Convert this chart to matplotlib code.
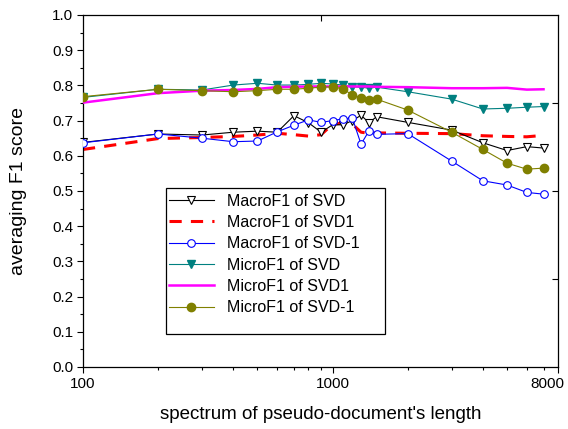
import matplotlib
matplotlib.use("Agg")
import matplotlib.pyplot as plt
import matplotlib.transforms as mtransforms
from matplotlib.ticker import FixedLocator, LogLocator, NullFormatter, MultipleLocator
from matplotlib.patches import Rectangle

plt.rcParams['font.family'] = ['Liberation Sans', 'DejaVu Sans']

# pseudo-document lengths
lengths = [100, 200, 300, 400, 500, 600, 700, 800, 900, 1000, 1100, 1200,
           1300, 1400, 1500, 2000, 3000, 4000, 5000, 6000, 7000]

macro_svd = [0.638, 0.662, 0.659, 0.667, 0.670, 0.667, 0.714, 0.694, 0.667,
             0.688, 0.688, 0.700, 0.715, 0.694, 0.711, 0.695, 0.673, 0.637,
             0.615, 0.626, 0.622]
macro_svd1 = [0.618, 0.649, 0.652, 0.655, 0.659, 0.664, 0.660, 0.656, 0.660,
              0.690, 0.693, 0.690, 0.667, 0.664, 0.665, 0.664, 0.663, 0.657,
              0.655, 0.654, 0.658]
macro_svd_m1 = [0.637, 0.662, 0.650, 0.640, 0.642, 0.668, 0.687, 0.702, 0.695,
                0.700, 0.705, 0.707, 0.633, 0.671, 0.661, 0.663, 0.585, 0.529,
                0.517, 0.496, 0.491]
micro_svd = [0.766, 0.789, 0.787, 0.801, 0.806, 0.801, 0.801, 0.803, 0.806,
             0.804, 0.801, 0.796, 0.795, 0.792, 0.795, 0.782, 0.761, 0.733,
             0.735, 0.738, 0.740]
micro_svd1 = [0.751, 0.778, 0.785, 0.787, 0.790, 0.795, 0.796, 0.797, 0.797,
              0.797, 0.797, 0.797, 0.797, 0.797, 0.796, 0.795, 0.792, 0.792,
              0.793, 0.788, 0.789]
micro_svd_m1 = [0.768, 0.789, 0.785, 0.782, 0.785, 0.789, 0.789, 0.792, 0.795,
                0.796, 0.790, 0.773, 0.765, 0.759, 0.761, 0.730, 0.667, 0.618,
                0.579, 0.562, 0.565]

x_ticks = [100, 1000, 8000]
x_ticklabels = ['100', '1000', '8000']

W, H = 568, 429
fig = plt.figure(figsize=(W / 100, H / 100), dpi=100)
ax = fig.add_axes([83 / W, 1 - 367 / H, 475 / W, 352 / H])

teal = '#008080'
olive = '#808000'

l1, = ax.plot(lengths, macro_svd, color='black', lw=0.8, marker='v', ms=6,
              mfc='white', mec='black', mew=0.8, zorder=3)
l2, = ax.plot(lengths, macro_svd1, color='red', lw=2.2, ls=(0, (4, 3)), zorder=2)
l3, = ax.plot(lengths, macro_svd_m1, color='blue', lw=0.8, marker='o', ms=5.5,
              mfc='white', mec='blue', mew=0.8, zorder=4)
l4, = ax.plot(lengths, micro_svd, color=teal, lw=0.8, marker='v', ms=6,
              mfc=teal, mec=teal, zorder=3)
l5, = ax.plot(lengths, micro_svd1, color='magenta', lw=1.8, zorder=3)
l6, = ax.plot(lengths, micro_svd_m1, color=olive, lw=0.8, marker='o', ms=6,
              mfc=olive, mec=olive, zorder=4)

ax.set_xscale('log')
ax.set_xlim(100, 8000)
ax.set_ylim(0.0, 1.0)
ax.xaxis.set_major_locator(FixedLocator(x_ticks))
ax.set_xticklabels(x_ticklabels)
ax.xaxis.set_minor_locator(LogLocator(base=10, subs=range(2, 10)))
ax.xaxis.set_minor_formatter(NullFormatter())
ax.yaxis.set_major_locator(MultipleLocator(0.1))
ax.yaxis.set_minor_locator(MultipleLocator(0.05))
ax.yaxis.set_major_formatter(plt.FuncFormatter(lambda v, p: f'{v:.1f}'))

ax.tick_params(which='major', direction='out', length=4, width=0.8,
               labelsize=11, pad=3)
ax.tick_params(which='minor', direction='out', length=2.3, width=0.8)
for s in ax.spines.values():
    s.set_linewidth(0.9)

# keep the last x label inside the figure
last = ax.get_xticklabels()[-1]
last.set_transform(last.get_transform() +
                   mtransforms.ScaledTranslation(-11 / 100, 0, fig.dpi_scale_trans))

# inward ticks on the opposite edges
ax_r = ax.twinx()
ax_r.set_ylim(0, 1)
ax_r.set_yticks([0.25, 0.5, 0.75])
ax_r.tick_params(direction='in', length=4, width=0.8, labelright=False)
ax_t = ax.twiny()
ax_t.set_xlim(0, 1)
ax_t.set_xticks([0.5])
ax_t.tick_params(direction='in', length=4, width=0.8, labeltop=False)
for a in (ax_r, ax_t):
    for s in a.spines.values():
        s.set_visible(False)

ax.set_xlabel("spectrum of pseudo-document's length", fontsize=13.5, labelpad=11)
ax.set_ylabel('averaging F1 score', fontsize=14, labelpad=18)

handles = [l1, l2, l3, l4, l5, l6]
labels = ['MacroF1 of SVD', 'MacroF1 of SVD1', 'MacroF1 of SVD-1',
          'MicroF1 of SVD', 'MicroF1 of SVD1', 'MicroF1 of SVD-1']
leg = fig.legend(handles, labels, loc='upper left',
                 bbox_to_anchor=(169 / W, 1 - 193.5 / H), frameon=False,
                 fontsize=11.5, handlelength=2.8, handletextpad=0.85,
                 labelspacing=0.4, borderpad=0, borderaxespad=0)
fig.add_artist(Rectangle((165.7 / W, 1 - 334 / H), (385 - 165.7) / W,
                         (334 - 188.3) / H, transform=fig.transFigure,
                         fill=False, edgecolor='black', lw=0.9, zorder=5))

fig.savefig('out.png', dpi=100)
